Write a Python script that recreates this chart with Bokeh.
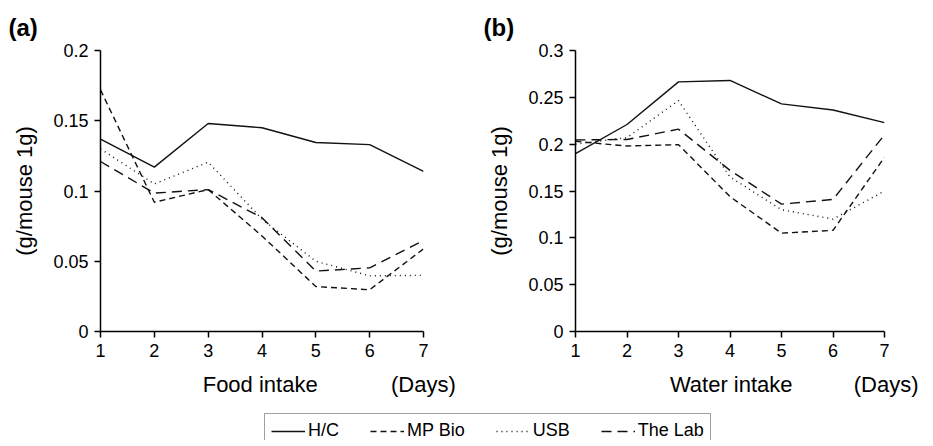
from bokeh.plotting import figure
from bokeh.models import Range1d, FixedTicker, Legend, LegendItem, Title
from bokeh.layouts import row, column
from bokeh.embed import file_html
from bokeh.resources import INLINE

days = [1, 2, 3, 4, 5, 6, 7]
series_names = ["H/C", "MP Bio", "USB", "The Lab"]

food_hc = [0.137, 0.117, 0.148, 0.145, 0.1345, 0.133, 0.114]
food_mpbio = [0.172, 0.092, 0.101, 0.068, 0.032, 0.0297, 0.0588]
food_usb = [0.130, 0.105, 0.1205, 0.080, 0.050, 0.0396, 0.040]
food_thelab = [0.121, 0.0985, 0.101, 0.081, 0.043, 0.0453, 0.0648]

water_hc = [0.190, 0.221, 0.2665, 0.268, 0.243, 0.2365, 0.223]
water_mpbio = [0.203, 0.198, 0.1995, 0.144, 0.105, 0.108, 0.186]
water_usb = [0.200, 0.207, 0.2465, 0.165, 0.130, 0.120, 0.150]
water_thelab = [0.2045, 0.205, 0.216, 0.172, 0.136, 0.141, 0.210]

food_yticks = [0, 0.05, 0.1, 0.15, 0.2]
food_ytick_labels = ["0", "0.05", "0.1", "0.15", "0.2"]
water_yticks = [0, 0.05, 0.1, 0.15, 0.2, 0.25, 0.3]
water_ytick_labels = ["0", "0.05", "0.1", "0.15", "0.2", "0.25", "0.3"]
xtick_labels = ["1", "2", "3", "4", "5", "6", "7"]

FONT = "Liberation Sans"
NB = "\u00a0"
styles = {
    "H/C": dict(line_dash="solid"),
    "MP Bio": dict(line_dash="6 4"),
    "USB": dict(line_dash="1 4"),
    "The Lab": dict(line_dash="10 6"),
}


def make_panel(width, left, right, ymax, yticks, ylabels, data, tag, xname, n1, n2):
    p = figure(width=width, height=399, output_backend="svg", toolbar_location=None,
               x_range=Range1d(1, 7), y_range=Range1d(0, ymax),
               min_border_left=left, min_border_right=right,
               min_border_top=50, min_border_bottom=60)
    p.outline_line_color = None
    p.grid.visible = False
    p.background_fill_color = "white"
    p.border_fill_color = "white"
    for ax in (p.xaxis[0], p.yaxis[0]):
        ax.axis_line_width = 1.5
        ax.axis_line_color = "black"
        ax.major_tick_line_color = "black"
        ax.major_tick_line_width = 1.5
        ax.major_tick_out = 6
        ax.major_tick_in = 0
        ax.minor_tick_line_color = None
        ax.major_label_text_font = FONT
        ax.major_label_text_font_size = "18px"
        ax.major_label_text_color = "black"
        ax.major_label_standoff = 6
        ax.axis_label_text_font = FONT
        ax.axis_label_text_font_size = "22px"
        ax.axis_label_text_font_style = "normal"
        ax.axis_label_text_color = "black"
    p.xaxis.ticker = FixedTicker(ticks=days)
    p.xaxis.major_label_overrides = {d: s for d, s in zip(days, xtick_labels)}
    p.yaxis.ticker = FixedTicker(ticks=yticks)
    p.yaxis.major_label_overrides = {t: s for t, s in zip(yticks, ylabels)}
    p.yaxis.axis_label = "(g/mouse 1g)"
    p.yaxis.axis_label_standoff = 13
    p.xaxis.axis_label = NB * n1 + xname + NB * n2 + "(Days)"
    p.xaxis.axis_label_standoff = 12

    p.title = Title(text=tag, align="left", offset=-92, text_font=FONT,
                    text_font_size="24px", text_font_style="bold", text_color="black",
                    standoff=20)

    for name, vals in zip(series_names, data):
        p.line(days, vals, line_color="#111111", line_width=1.4, **styles[name])
    return p


pa = make_panel(460, 100, 37, 0.2, food_yticks, food_ytick_labels,
                [food_hc, food_mpbio, food_usb, food_thelab], "(a)",
                "Food intake", 22, 12)
pb = make_panel(465, 115, 41, 0.3, water_yticks, water_ytick_labels,
                [water_hc, water_mpbio, water_usb, water_thelab], "(b)",
                "Water intake", 21, 10)

# legend strip: the same series, kept outside the visible range so only the legend shows
pl = figure(width=925, height=41, output_backend="svg", toolbar_location=None,
            x_axis_type=None, y_axis_type=None, x_range=Range1d(100, 101),
            y_range=Range1d(100, 101), min_border=0)
pl.outline_line_color = None
pl.grid.visible = False
items = []
for name, vals in zip(series_names, [food_hc, food_mpbio, food_usb, food_thelab]):
    r = pl.line(days, vals, line_color="#111111", line_width=1.4, **styles[name])
    items.append(LegendItem(label=name, renderers=[r]))
legend = Legend(items=items, location=(264, -8), orientation="horizontal",
                label_text_font=FONT, label_text_font_size="18px", label_text_color="black",
                glyph_width=34, glyph_height=20, label_standoff=3, spacing=31,
                padding=6, margin=0, border_line_color="#444444", border_line_width=1.5,
                background_fill_color="white", background_fill_alpha=1.0)
pl.add_layout(legend)

layout = column(row(pa, pb), pl)
open("out.html", "w").write(file_html(layout, INLINE))
